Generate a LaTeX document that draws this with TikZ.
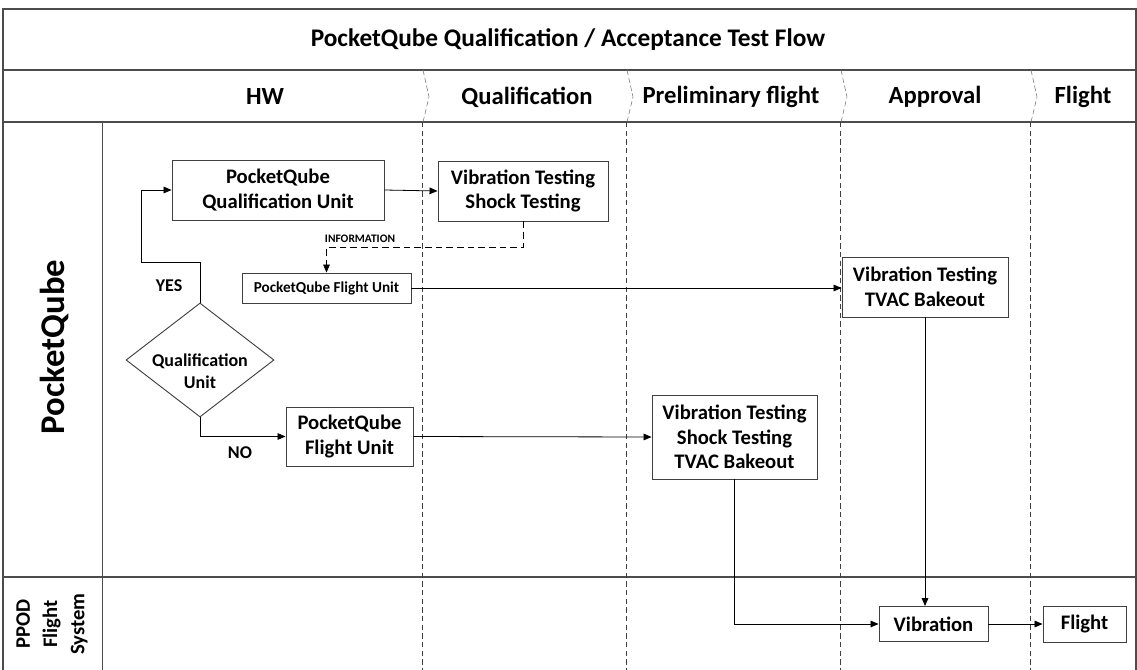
\documentclass[tikz,border=0pt]{standalone}
\usepackage{fontspec}
\setmainfont{Carlito}
\usetikzlibrary{shapes.geometric,calc,arrows.meta}
\begin{document}
\begin{tikzpicture}[x=0.75pt,y=-0.75pt,
  frame/.style={draw=black!70, line width=1.1pt},
  lane/.style={draw=black!75, line width=0.5pt, dash pattern=on 4pt off 2.5pt},
  chev/.style={draw=black!55, line width=0.4pt, dash pattern=on 4pt off 2pt},
  box/.style={draw=black!75, line width=0.7pt, fill=white, align=center, font=\bfseries\fontsize{15.5}{18.5}\selectfont, inner sep=0pt},
  sbox/.style={box, font=\bfseries\fontsize{11.4}{13}\selectfont},
  hdr/.style={font=\bfseries\fontsize{18.5}{22}\selectfont},
  arr/.style={draw=black, line width=0.6pt, -{Triangle[length=6pt,width=5pt]}},
  lbl/.style={font=\bfseries\fontsize{13.5}{16}\selectfont}
]
\useasboundingbox (0,0) rectangle (1137,670);
% frame
\draw[frame] (3,670) -- (3,9) -- (1136,9) -- (1136,670);
\draw[frame] (3,70) -- (1136,70);
\draw[frame] (3,122) -- (1136,122);
\draw[frame] (3,577) -- (1136,577);
\draw[draw=black!70, line width=0.7pt] (102,122) -- (102,670);
% header chevrons and lane lines
\foreach \x in {422,626,840,1030}{
  \draw[chev] (\x+1,70) -- (\x+7,97) -- (\x+1,122);
  \draw[lane] (\x,122) -- (\x,670);
}
% titles
\node[font=\bfseries\fontsize{19}{22}\selectfont] (title) at (568,40) {PocketQube Qualification / Acceptance Test Flow};
\node[hdr] (hHW) at (265,97) {HW};
\node[hdr] (hQ) at (527,97) {Qualification};
\node[hdr] (hP) at (731,97) {Preliminary flight};
\node[hdr] (hA) at (935,97) {Approval};
\node[hdr] (hF) at (1083,97) {Flight};
\node[rotate=90, font=\bfseries\fontsize{26}{30}\selectfont] (lPQ) at (55,347) {PocketQube};
\node[rotate=90, align=center, font=\bfseries\fontsize{15.5}{20.5}\selectfont] (lPP) at (52,624) {PPOD\\Flight\\System};
% nodes
\node[box, minimum width=212*0.75pt, minimum height=60*0.75pt] (qual) at (278,190) {PocketQube\\Qualification Unit};
\node[box, minimum width=170*0.75pt, minimum height=60*0.75pt] (vt1) at (523,191) {Vibration Testing\\Shock Testing};
\node[sbox, minimum width=169*0.75pt, minimum height=30*0.75pt] (fu1) at (326.5,288) {PocketQube Flight Unit};
\node[draw=black!75, line width=0.7pt, diamond, aspect=1.3, minimum width=148*0.75pt, minimum height=114*0.75pt, inner sep=0pt, align=center, font=\bfseries\fontsize{13.5}{16.5}\selectfont] (dia) at (200,360) {};
\node[align=center, font=\bfseries\fontsize{13.5}{16.5}\selectfont] (diatext) at (200,371) {Qualification\\Unit};
\node[box, minimum width=127*0.75pt, minimum height=59*0.75pt] (fu2) at (349.5,436.5) {PocketQube\\Flight Unit};
\node[box, minimum width=165*0.75pt, minimum height=84*0.75pt] (pre) at (734.5,437) {Vibration Testing\\Shock Testing\\TVAC Bakeout};
\node[box, minimum width=166*0.75pt, minimum height=60*0.75pt] (app) at (925,287) {Vibration Testing\\TVAC Bakeout};
\node[box, minimum width=109*0.75pt, minimum height=35*0.75pt] (vib) at (933.5,624) {Vibration};
\node[box, minimum width=83*0.75pt, minimum height=36*0.75pt] (fl) at (1084.5,624) {Flight};
% connectors
\draw[arr] (qual.east) -- (vt1.west);
\draw[arr, dash pattern=on 5pt off 3pt] (vt1.south) -- ++(0,26) -| (fu1.north);
\node[font=\bfseries\fontsize{8.6}{10}\selectfont] (info) at (360,239) {INFORMATION};
\draw[arr] (dia.north) -- ++(0,-40) -| ($(qual.west)+(-30,0)$) -- (qual.west);
\node[lbl] (yes) at (169,286) {YES};
\draw[arr] (dia.south) |- (fu2.west);
\node[lbl] (no) at (240,453) {NO};
\draw[arr] (fu2.east) -- (pre.west);
\draw[arr] (fu1.east) -- (fu1.east -| app.west);
\draw[arr] (app.south) -- (app.south |- vib.north);
\draw[arr] (pre.south) |- (vib.west);
\draw[arr] (vib.east) -- (fl.west);
\end{tikzpicture}
\end{document}
